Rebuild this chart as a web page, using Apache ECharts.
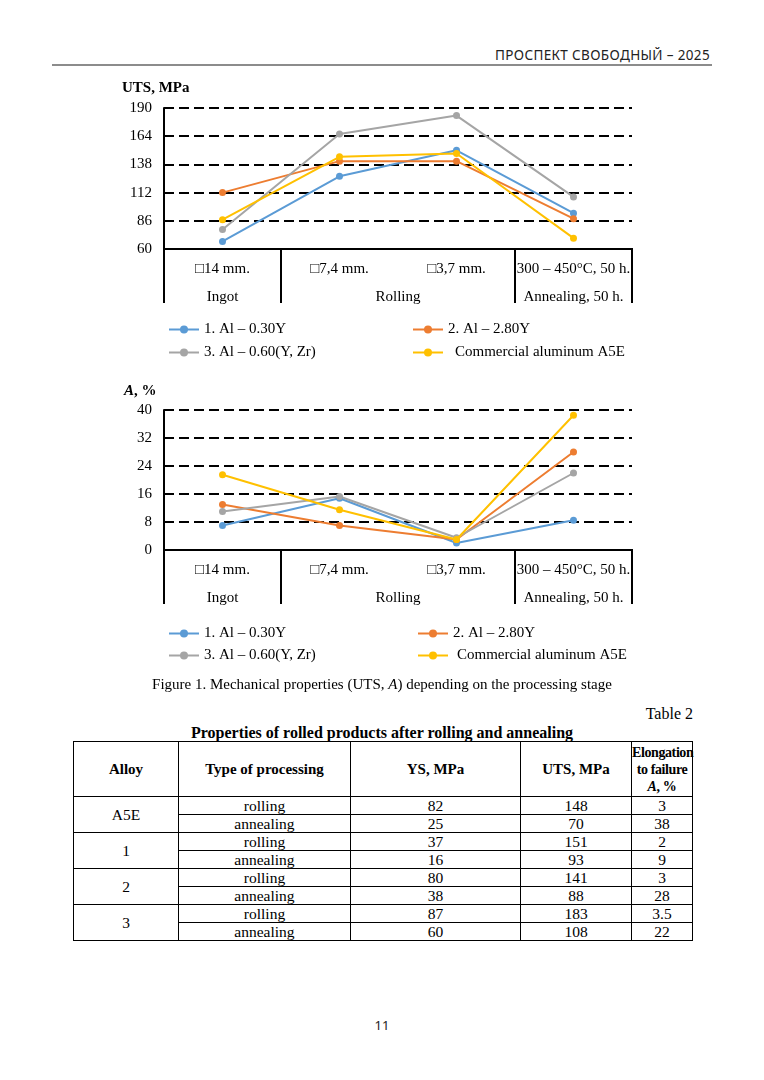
<!DOCTYPE html>
<html>
<head>
<meta charset="utf-8">
<script src="https://cdn.jsdelivr.net/npm/echarts@6/dist/echarts.min.js"></script>
<style>
  html, body { margin: 0; padding: 0; background: #fff; }
  #page { position: relative; width: 764px; height: 1080px; overflow: hidden; background: #fff;
          font-family: "Liberation Serif", "Times New Roman", serif; color: #000; }
  #chart { position: absolute; left: 0; top: 0; width: 764px; height: 680px; }
  .abs { position: absolute; white-space: nowrap; }
  #runhead { right: 54px; top: 45px; font-family: "Noto Sans", sans-serif; font-size: 13.5px;
             letter-spacing: 0.35px; color: #222; line-height: 20px; }
  #rule { left: 52px; top: 64px; width: 660px; height: 2px; background: #8c8c8c; }
  #caption { left: 0; width: 764px; text-align: center; top: 675px; font-size: 15px; line-height: 18px; }
  #tablabel { right: 71px; top: 705px; font-size: 16px; line-height: 18px; }
  #tabtitle { left: 0; width: 764px; text-align: center; top: 723px; font-size: 16px; font-weight: bold; line-height: 19px; }
  #tbl { position: absolute; left: 73px; top: 741px; width: 619px; border-collapse: collapse; table-layout: fixed; }
  #tbl td, #tbl th { border: 1px solid #000; padding: 0; text-align: center; vertical-align: middle;
                     font-size: 15.5px; line-height: 17px; overflow: visible; }
  #tbl th { font-size: 15px; font-weight: bold; height: 54px; line-height: 17px; }
  #tbl th.narrow { font-size: 14px; letter-spacing: -0.4px; white-space: nowrap; }
  #tbl td { height: 17px; }
  #pagenum { left: 0; width: 764px; text-align: center; top: 1016px; font-family: "Noto Sans", sans-serif;
             font-size: 13px; color: #222; }
</style>
</head>
<body>
<div id="page">
  <div id="runhead" class="abs">ПРОСПЕКТ СВОБОДНЫЙ – 2025</div>
  <div id="rule" class="abs"></div>
  <div id="chart"></div>
  <div id="caption" class="abs">Figure 1. Mechanical properties (UTS, <i>A</i>) depending on the processing stage</div>
  <div id="tablabel" class="abs">Table 2</div>
  <div id="tabtitle" class="abs">Properties of rolled products after rolling and annealing</div>
  <table id="tbl"></table>
  <div id="pagenum" class="abs">11</div>
</div>
<script>
// ---------- chart data ----------
const stageLabels = ['□14 mm.', '□7,4 mm.', '□3,7 mm.', '300 – 450°C, 50 h.'];
const groupLabels = ['Ingot', 'Rolling', 'Annealing, 50 h.'];
const groupFirstIndex = [0, 1, 3];
const groupLastIndex = [0, 2, 3];
const seriesNames = ['1. Al – 0.30Y', '2. Al – 2.80Y', '3. Al – 0.60(Y, Zr)', 'Commercial aluminum A5E'];

const utsAl030Y   = [67, 127, 151, 93];
const utsAl280Y   = [112, 141, 141, 88];
const utsAl060YZr = [78, 166, 183, 108];
const utsA5E      = [87, 145, 148, 70];

const elongAl030Y   = [7, 14.8, 2, 8.5];
const elongAl280Y   = [13, 7, 3, 28];
const elongAl060YZr = [11, 15.3, 3.5, 22];
const elongA5E      = [21.5, 11.5, 3, 38.5];

const utsAxisMin = 60, utsAxisMax = 190, utsAxisStep = 26;
const elongAxisMin = 0, elongAxisMax = 40, elongAxisStep = 8;

// ---------- table data ----------
const tableHeaders = ['Alloy', 'Type of processing', 'YS, MPa', 'UTS, MPa', 'Elongation<br>to failure<br><i>A</i>, %'];
const tableAlloys = ['A5E', '1', '2', '3'];
const tableProcessing = ['rolling', 'annealing'];
const tableYS = [82, 25, 37, 16, 80, 38, 87, 60];
const tableUTS = [148, 70, 151, 93, 141, 88, 183, 108];
const tableElong = ['3', '38', '2', '9', '3', '28', '3.5', '22'];

// ---------- build table ----------
(function buildTable() {
  const colW = [105, 172, 170, 111, 61];
  const tbl = document.getElementById('tbl');
  let html = '<colgroup>' + colW.map(w => '<col style="width:' + w + 'px">').join('') + '</colgroup>';
  html += '<tr>' + tableHeaders.map((h, i) => '<th' + (i === 4 ? ' class="narrow"' : '') + '>' + h + '</th>').join('') + '</tr>';
  tableAlloys.forEach((a, i) => {
    tableProcessing.forEach((p, j) => {
      const k = i * 2 + j;
      html += '<tr>';
      if (j === 0) html += '<td rowspan="2">' + a + '</td>';
      html += '<td>' + p + '</td><td>' + tableYS[k] + '</td><td>' + tableUTS[k] + '</td><td>' + tableElong[k] + '</td></tr>';
    });
  });
  tbl.innerHTML = html;
})();

// ---------- chart ----------
const FONT = '"Liberation Serif", "Times New Roman", serif';
const colors = ['#5B9BD5', '#ED7D31', '#A5A5A5', '#FFC000'];
const chart = echarts.init(document.getElementById('chart'), null, { renderer: 'canvas' });

const yMins = [utsAxisMin, elongAxisMin];

function yAxisCfg(gi, mn, mx, st) {
  return {
    type: 'value', gridIndex: gi, min: mn, max: mx, interval: st,
    axisLine: { show: true, lineStyle: { color: '#000', width: 2 } },
    axisTick: { show: false },
    axisLabel: { color: '#000', fontFamily: FONT, fontSize: 15, margin: 12 },
    splitLine: { show: true, lineStyle: { color: '#000', width: 1.8, type: [10, 5] } }
  };
}
function xAxisCfg(gi) {
  return {
    type: 'category', gridIndex: gi, data: stageLabels, boundaryGap: true,
    axisLine: { show: true, lineStyle: { color: '#000', width: 2 } },
    axisTick: { show: false },
    axisLabel: { interval: 0, color: '#000', fontFamily: FONT, fontSize: 15, margin: 13 },
    splitLine: { show: false }
  };
}
function lineSeries(gi, idx, data) {
  return {
    type: 'line', name: seriesNames[idx], xAxisIndex: gi, yAxisIndex: gi, data: data,
    symbol: 'circle', symbolSize: 7, color: colors[idx],
    lineStyle: { width: 2, color: colors[idx] },
    itemStyle: { color: colors[idx] }, z: 3 + (idx === 3 ? 1 : 0)
  };
}
function legends(rowTop1, rowTop2, col2Left, yellowPad) {
  const base = { itemWidth: 30, itemHeight: 10, selectedMode: false, padding: 0,
                 textStyle: { fontFamily: FONT, fontSize: 15, color: '#000' } };
  return [
    Object.assign({}, base, { left: 168, top: rowTop1, data: [seriesNames[0]] }),
    Object.assign({}, base, { left: col2Left, top: rowTop1, data: [seriesNames[1]] }),
    Object.assign({}, base, { left: 168, top: rowTop2, data: [seriesNames[2]] }),
    Object.assign({}, base, { left: col2Left, top: rowTop2, data: [seriesNames[3]],
                              textStyle: Object.assign({}, base.textStyle, { padding: [0, 0, 0, yellowPad] }) })
  ];
}

chart.setOption({
  animation: false,
  grid: [
    { left: 164, top: 108, width: 468, height: 141 },
    { left: 164, top: 410, width: 468, height: 140 }
  ],
  xAxis: [xAxisCfg(0), xAxisCfg(1)],
  yAxis: [yAxisCfg(0, utsAxisMin, utsAxisMax, utsAxisStep), yAxisCfg(1, elongAxisMin, elongAxisMax, elongAxisStep)],
  legend: legends(322, 345, 412, 7).concat(legends(626, 648, 417, 4)),
  series: [
    lineSeries(0, 0, utsAl030Y), lineSeries(0, 1, utsAl280Y), lineSeries(0, 2, utsAl060YZr), lineSeries(0, 3, utsA5E),
    lineSeries(1, 0, elongAl030Y), lineSeries(1, 1, elongAl280Y), lineSeries(1, 2, elongAl060YZr), lineSeries(1, 3, elongA5E)
  ]
});

// multi-level category axis decoration, positioned from the axis scales
const decor = [];
[0, 1].forEach(gi => {
  const yb = chart.convertToPixel({ yAxisIndex: gi }, yMins[gi]);
  const c0 = chart.convertToPixel({ xAxisIndex: gi }, 0);
  const c1 = chart.convertToPixel({ xAxisIndex: gi }, 1);
  const bw = c1 - c0;
  const bounds = new Set();
  groupLabels.forEach((g, k) => {
    const left = chart.convertToPixel({ xAxisIndex: gi }, groupFirstIndex[k]) - bw / 2;
    const right = chart.convertToPixel({ xAxisIndex: gi }, groupLastIndex[k]) + bw / 2;
    bounds.add(Math.round(left * 2) / 2); bounds.add(Math.round(right * 2) / 2);
    decor.push({ type: 'text', x: (left + right) / 2, y: yb + 48, z: 10,
      style: { text: g, fill: '#000', fontFamily: FONT, fontSize: 15, align: 'center', verticalAlign: 'middle' } });
  });
  bounds.forEach(x => {
    decor.push({ type: 'line', z: 10, shape: { x1: x, y1: yb - 1, x2: x, y2: yb + 54 },
      style: { stroke: '#000', lineWidth: 2 } });
  });
});
decor.push({ type: 'text', x: 122, y: 88, z: 10,
  style: { text: 'UTS, MPa', fill: '#000', fontFamily: FONT, fontSize: 15, fontWeight: 'bold', verticalAlign: 'middle' } });
decor.push({ type: 'text', x: 124, y: 391, z: 10,
  style: { text: '{i|A}, %', fill: '#000', fontFamily: FONT, fontSize: 15, fontWeight: 'bold', verticalAlign: 'middle',
           rich: { i: { fontFamily: FONT, fontSize: 15, fontWeight: 'bold', fontStyle: 'italic', fill: '#000' } } } });
chart.setOption({ graphic: decor });
</script>
</body>
</html>
